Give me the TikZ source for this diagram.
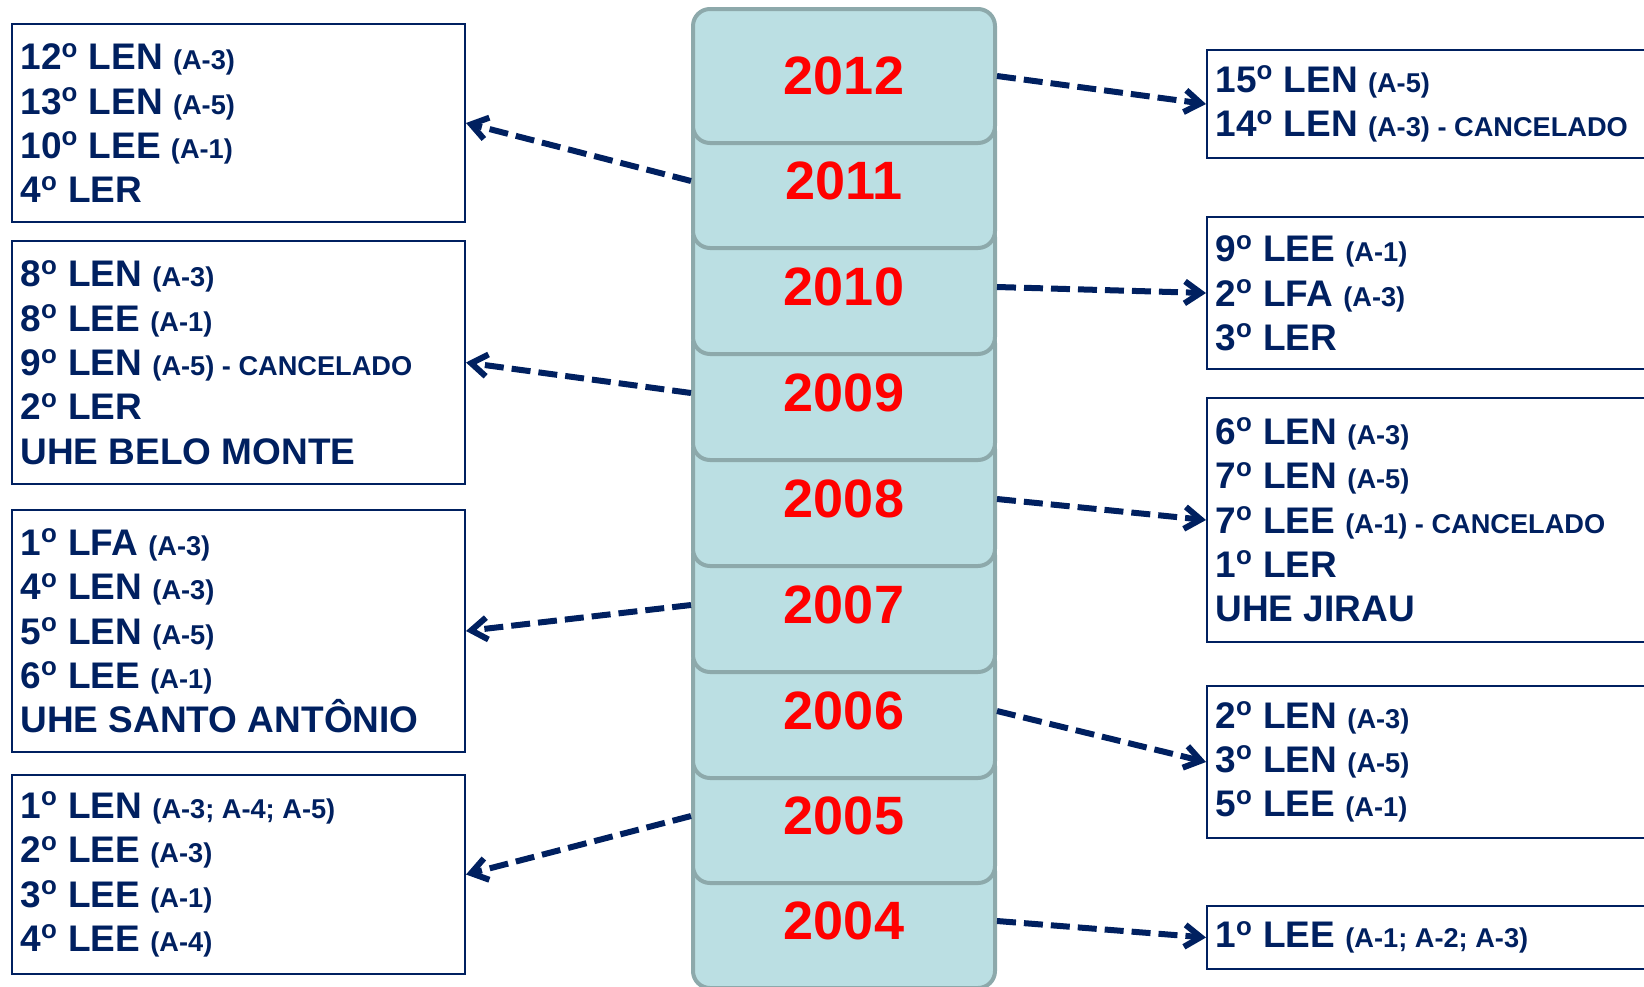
\documentclass[tikz,border=0pt]{standalone}
\usepackage{fontspec}
\setmainfont{Liberation Sans}
\usepackage{xcolor}
\usetikzlibrary{arrows.meta}

\definecolor{navy}{RGB}{0,32,96}
\definecolor{cellfill}{RGB}{187,223,227}
\definecolor{celledge}{RGB}{141,169,171}
\newcommand{\subtxt}[1]{{\fontsize{13.6pt}{22.2pt}\selectfont #1}}
\newcommand{\ordn}[1]{#1\textsuperscript{o}}
\frenchspacing

\begin{document}
\begin{tikzpicture}[x=0.5pt,y=-0.5pt,
    year/.style={draw=celledge, fill=cellfill, line width=2pt, rounded corners=8.5pt,
        minimum width=151pt, minimum height=67pt, text=red,
        font=\fontsize{27pt}{27pt}\selectfont\bfseries},
    infobox/.style={draw=navy, line width=1pt, text=navy, align=flush left,
        text width=218pt, inner xsep=4.25pt,
        font=\fontsize{18.5pt}{22.2pt}\selectfont\bfseries},
    link/.style={draw=navy, line width=3pt, dash pattern=on 9.5pt off 4pt,
        -{Straight Barb[length=8pt,width=11pt]}}]

    \clip (0,0) rectangle (1644,986);

    %===========================
    % Years
    %===========================
    \node (y2004) at (844,921) [year] {2004};
    \node (y2005) at (844,816) [year] {2005};
    \node (y2006) at (844,711) [year] {2006};
    \node (y2007) at (844,605) [year] {2007};
    \node (y2008) at (844,499) [year] {2008};
    \node (y2009) at (844,393) [year] {2009};
    \node (y2010) at (844,287) [year] {2010};
    \node (y2011) at (844,181) [year] {2011};
    \node (y2012) at (844,76) [year] {2012};


    %===========================
    % Left Side
    %===========================
    \node (L2011) at (238.5,123) [infobox, minimum height=99pt]
        {\ordn{12} LEN \subtxt{(A-3)}\\
         \ordn{13} LEN \subtxt{(A-5)}\\
         \ordn{10} LEE \subtxt{(A-1)}\\
         \ordn{4} LER};
    \draw[link] (y2011.west) -- (L2011.east);

    \node (L2009) at (238.5,362.5) [infobox, minimum height=121.5pt]
        {\ordn{8} LEN \subtxt{(A-3)}\\
         \ordn{8} LEE \subtxt{(A-1)}\\
         \ordn{9} LEN \subtxt{(A-5) - CANCELADO}\\
         \ordn{2} LER\\
         UHE BELO MONTE};
    \draw[link] (y2009.west) -- (L2009.east);

    \node (L2007) at (238.5,631) [infobox, minimum height=121pt]
        {\ordn{1} LFA \subtxt{(A-3)}\\
         \ordn{4} LEN \subtxt{(A-3)}\\
         \ordn{5} LEN \subtxt{(A-5)}\\
         \ordn{6} LEE \subtxt{(A-1)}\\
         UHE SANTO ANTÔNIO};
    \draw[link] (y2007.west) -- (L2007.east);

    \node (L2005) at (238.5,874.5) [infobox, minimum height=99.5pt]
        {\ordn{1} LEN \subtxt{(A-3; A-4; A-5)}\\
         \ordn{2} LEE \subtxt{(A-3)}\\
         \ordn{3} LEE \subtxt{(A-1)}\\
         \ordn{4} LEE \subtxt{(A-4)}};
    \draw[link] (y2005.west) -- (L2005.east);


    %===========================
    % Right Side
    %===========================
    \node (R2012) at (1433.5,104) [infobox, minimum height=54pt]
        {\ordn{15} LEN \subtxt{(A-5)}\\
         \ordn{14} LEN \subtxt{(A-3) - CANCELADO}};
    \draw[link] (y2012.east) -- (R2012.west);

    \node (R2010) at (1433.5,293) [infobox, minimum height=76pt]
        {\ordn{9} LEE \subtxt{(A-1)}\\
         \ordn{2} LFA \subtxt{(A-3)}\\
         \ordn{3} LER};
    \draw[link] (y2010.east) -- (R2010.west);

    \node (R2008) at (1433.5,520) [infobox, minimum height=122pt]
        {\ordn{6} LEN \subtxt{(A-3)}\\
         \ordn{7} LEN \subtxt{(A-5)}\\
         \ordn{7} LEE \subtxt{(A-1) - CANCELADO}\\
         \ordn{1} LER\\
         UHE JIRAU};
    \draw[link] (y2008.east) -- (R2008.west);

    \node (R2006) at (1433.5,762) [infobox, minimum height=76pt]
        {\ordn{2} LEN \subtxt{(A-3)}\\
         \ordn{3} LEN \subtxt{(A-5)}\\
         \ordn{5} LEE \subtxt{(A-1)}};
    \draw[link] (y2006.east) -- (R2006.west);

    \node (R2004) at (1433.5,937.5) [infobox, minimum height=31.5pt]
        {\ordn{1} LEE \subtxt{(A-1; A-2; A-3)}};
    \draw[link] (y2004.east) -- (R2004.west);
\end{tikzpicture}
\end{document}
